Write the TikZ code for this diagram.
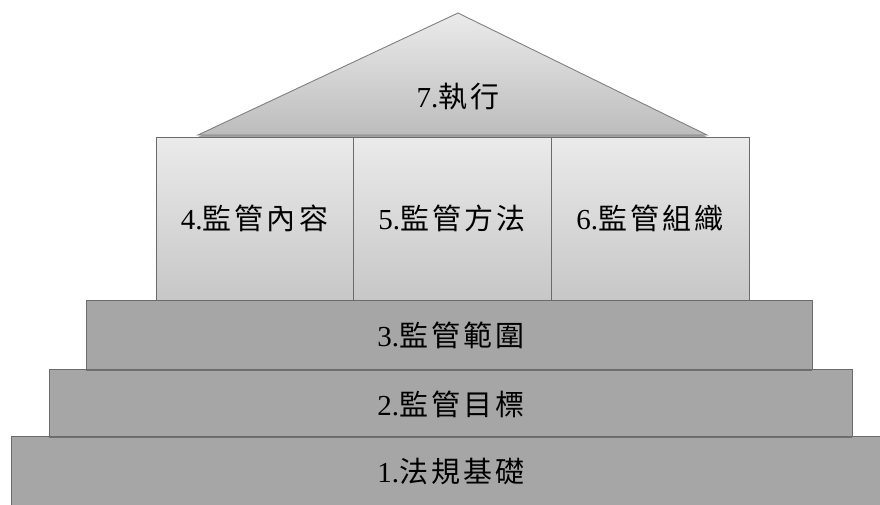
\documentclass[tikz,border=0pt]{standalone}
\usepackage{fontspec}
\setmainfont{Liberation Serif}
\newfontfamily\cjk[LetterSpace=11]{Noto Sans CJK TC}
\usetikzlibrary{shadows}
\tikzset{
  lbl/.style={font=\fontsize{29}{31}\selectfont, text=black},
  layer/.style={draw=black!58, line width=0.9pt, fill=black!35, inner sep=0pt, outer sep=0pt,
    drop shadow={shadow xshift=0pt, shadow yshift=-2pt, fill=black!70, opacity=0.6}},
  pillar/.style={draw=black!58, line width=0.9pt, top color=black!8, bottom color=black!22,
    inner sep=0pt, outer sep=0pt, minimum width=198pt, minimum height=163pt},
  roofshape/.style={draw=black!50, line width=0.9pt, top color=black!8, bottom color=black!26,
    drop shadow={shadow xshift=0pt, shadow yshift=-2pt, fill=black!60, opacity=0.6}}
}
\newcommand{\lab}[2]{#1{\cjk #2}}
\begin{document}
\begin{tikzpicture}[x=1pt,y=-1pt]
\useasboundingbox[fill=white] (0,0) rectangle (880,504);
% base layers
\node[layer, minimum width=874pt, minimum height=70pt] (l1) at (448,471) {};
\node[layer, minimum width=803pt, minimum height=67pt] (l2) at (450.5,402.5) {};
\node[layer, minimum width=726pt, minimum height=69pt] (l3) at (449,334.5) {};
\node[lbl] (t1) at (451,471) {\lab{1.}{法規基礎}};
\node[lbl] (t2) at (451,404) {\lab{2.}{監管目標}};
\node[lbl] (t3) at (451,335) {\lab{3.}{監管範圍}};
% pillars
\node[pillar, minimum width=197pt] (c4) at (254.5,218.5) {};
\node[pillar] (c5) at (452,218.5) {};
\node[pillar] (c6) at (650,218.5) {};
\node[lbl] (t4) at (254.5,218) {\lab{4.}{監管內容}};
\node[lbl] (t5) at (452,218) {\lab{5.}{監管方法}};
\node[lbl] (t6) at (650,218) {\lab{6.}{監管組織}};
% roof
\coordinate (apex) at (458,13);
\coordinate (bl) at (198,135);
\coordinate (br) at (707,135);
\path[roofshape] (apex) -- (br) -- (bl) -- cycle;
\node[lbl] (t7) at (458,97) {\lab{7.}{執行}};
\end{tikzpicture}
\end{document}
